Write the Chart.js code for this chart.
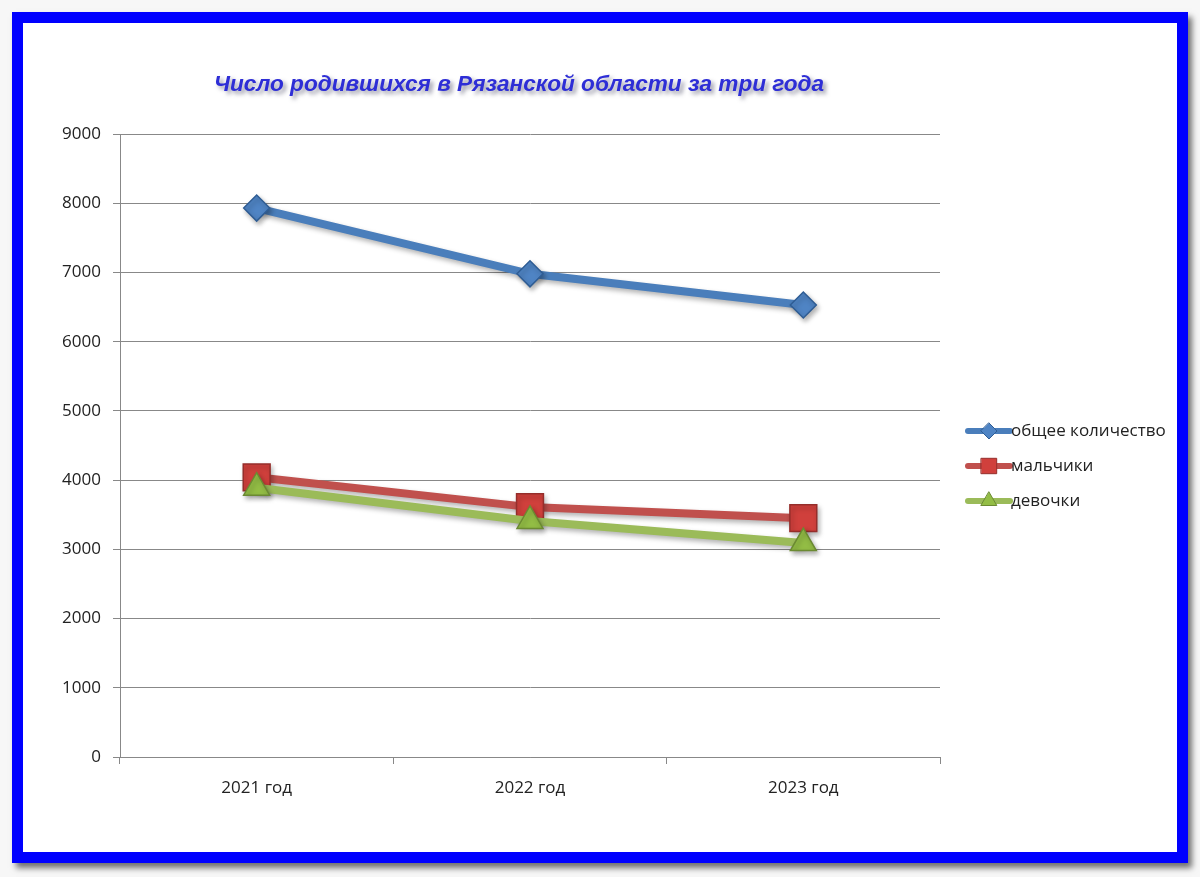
<!DOCTYPE html>
<html>
<head>
<meta charset="utf-8">
<script src="https://cdn.jsdelivr.net/npm/chart.js@4.4.0/dist/chart.umd.min.js"></script>
<style>
  html, body { margin: 0; padding: 0; background: #f7f7f7; }
  #frame {
    position: absolute; left: 12px; top: 12px;
    width: 1154px; height: 829px;
    border: 11px solid #0000ff;
    background: #ffffff;
    box-shadow: 4px 5px 6px rgba(0,0,0,0.55);
  }
  #myChart { display: block; }
</style>
</head>
<body>
<div id="frame"><canvas id="myChart" width="1154" height="829"></canvas></div>
<script>
// Données
const years = ['2021 год', '2022 год', '2023 год'];
const total = [7930, 6980, 6530];   // общее количество
const boys = [4040, 3610, 3450];    // мальчики
const girls = [3890, 3410, 3090];   // девочки
const yTicks = [0, 1000, 2000, 3000, 4000, 5000, 6000, 7000, 8000, 9000];

const titleText = 'Число родившихся в Рязанской области за три года';

// order : plus petit = dessiné au-dessus (le vert passe sur le rouge)
const seriesInfo = [
    { label: 'общее количество', data: total, color: '#4a7ebb', fill: '#4f84c4', dark: '#2f5d94', style: 'rectRot', r: 13, lr: 8, order: 0 },
    { label: 'мальчики', data: boys, color: '#c0504d', fill: '#d0403c', dark: '#952e2b', style: 'rect', r: 19, lr: 11, order: 2 },
    { label: 'девочки', data: girls, color: '#9bbb59', fill: '#93bd45', dark: '#6b8a32', style: 'triangle', r: 15, lr: 9, order: 1 }
];

// petites ombres sous les courbes
const shadowPlugin = {
    id: 'shadowPlugin',
    beforeDatasetsDraw(chart) {
        const ctx = chart.ctx;
        ctx.save();
        ctx.shadowColor = 'rgba(0,0,0,0.3)';
        ctx.shadowBlur = 5;
        ctx.shadowOffsetX = 2;
        ctx.shadowOffsetY = 3;
    },
    afterDatasetsDraw(chart) {
        chart.ctx.restore();
    }
};

function drawMarker(ctx, style, x, y, r, fill, stroke) {
    ctx.beginPath();
    if (style === 'rectRot') {
        ctx.moveTo(x, y - r); ctx.lineTo(x + r, y); ctx.lineTo(x, y + r); ctx.lineTo(x - r, y);
    } else if (style === 'rect') {
        ctx.rect(x - r * 0.7, y - r * 0.7, r * 1.4, r * 1.4);
    } else {
        ctx.moveTo(x, y - r); ctx.lineTo(x + r * 0.87, y + r * 0.5); ctx.lineTo(x - r * 0.87, y + r * 0.5);
    }
    ctx.closePath();
    ctx.fillStyle = fill;
    ctx.fill();
    ctx.lineWidth = 1;
    ctx.strokeStyle = stroke;
    ctx.stroke();
}

// titre avec ombre + légende maison
const decorPlugin = {
    id: 'decorPlugin',
    afterDraw(chart) {
        const ctx = chart.ctx;
        const area = chart.chartArea;
        ctx.save();
        ctx.font = 'italic bold 22.6px "Liberation Sans", Arial, sans-serif';
        ctx.textAlign = 'center';
        ctx.textBaseline = 'middle';
        ctx.shadowColor = 'rgba(60,60,90,0.55)';
        ctx.shadowBlur = 4;
        ctx.shadowOffsetX = 3;
        ctx.shadowOffsetY = 3;
        ctx.fillStyle = '#2e2ed6';
        ctx.fillText(titleText, (area.left + area.right) / 2 - 11, 62);
        ctx.restore();

        ctx.save();
        ctx.font = '17px "Open Sans", "Noto Sans", sans-serif';
        ctx.textBaseline = 'middle';
        seriesInfo.forEach((s, i) => {
            const y = 408 + i * 35;
            const x0 = 945;
            ctx.beginPath();
            ctx.moveTo(x0, y); ctx.lineTo(x0 + 42, y);
            ctx.lineWidth = 6;
            ctx.lineCap = 'round';
            ctx.strokeStyle = s.color;
            ctx.stroke();
            drawMarker(ctx, s.style, x0 + 21, y, s.lr, s.fill, s.dark);
            ctx.fillStyle = '#222';
            ctx.fillText(s.label, x0 + 43, y);
        });
        ctx.restore();
    }
};

const ctx = document.getElementById('myChart').getContext('2d');

const myChart = new Chart(ctx, {
    type: 'line',
    data: {
        labels: years,
        datasets: seriesInfo.map(s => ({
            label: s.label,
            data: s.data,
            order: s.order,
            borderColor: s.color,
            backgroundColor: s.color,
            borderWidth: 8,
            pointStyle: s.style,
            pointRadius: s.r,
            pointBackgroundColor: s.fill,
            pointBorderColor: s.dark,
            pointBorderWidth: 1.5,
            tension: 0
        }))
    },
    options: {
        responsive: false,
        animation: false,
        layout: { padding: { left: 37, right: 237, top: 111, bottom: 0 } },
        plugins: {
            legend: { display: false },
            title: { display: false },
            tooltip: { enabled: false }
        },
        scales: {
            x: {
                offset: true,
                grid: { offset: true, drawOnChartArea: false, drawTicks: true, tickLength: 7, color: '#888' },
                border: { color: '#888' },
                ticks: { color: '#222', padding: 14, font: { family: '"Open Sans", "Noto Sans", sans-serif', size: 17 } },
                afterFit(scale) { scale.height = 95; }
            },
            y: {
                min: 0,
                max: 9000,
                afterBuildTicks(scale) { scale.ticks = yTicks.map(v => ({ value: v })); },
                grid: { color: '#888', tickLength: 7 },
                border: { color: '#888' },
                ticks: {
                    color: '#222',
                    padding: 12,
                    font: { family: '"Open Sans", "Noto Sans", sans-serif', size: 17 },
                    callback: v => String(v)
                },
                afterFit(scale) { scale.width = 60; }
            }
        }
    },
    plugins: [shadowPlugin, decorPlugin]
});
</script>
</body>
</html>
